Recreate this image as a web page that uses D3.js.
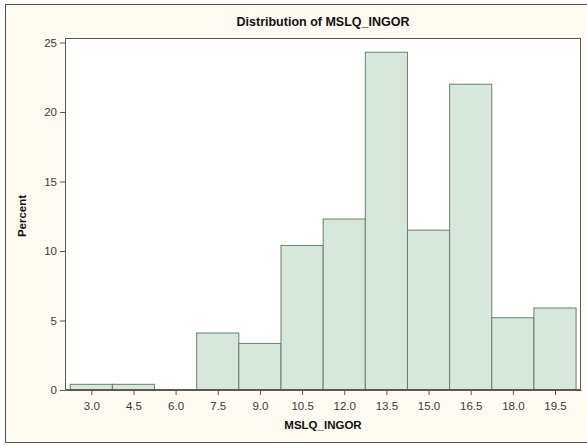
<!DOCTYPE html>
<html>
<head>
<meta charset="utf-8">
<script src="https://cdn.jsdelivr.net/npm/d3@7"></script>
<style>
  body { margin: 0; background: #fff; }
  text { font-family: Arial, "Liberation Sans", sans-serif; }
</style>
</head>
<body>
<div id="chart"></div>
<script>
// histogram bins (midpoints) and percent per bin
var binMids = [3.0, 4.5, 6.0, 7.5, 9.0, 10.5, 12.0, 13.5, 15.0, 16.5, 18.0, 19.5];
var percents = [0.41, 0.41, 0, 4.1, 3.35, 10.4, 12.3, 24.3, 11.5, 22.0, 5.2, 5.9];
var yTicks = [0, 5, 10, 15, 20, 25];
var binWidth = 1.5;

var svgWidth = 587;
var svgHeight = 445;

var plot = { left: 65, right: 581, top: 38, bottom: 390 };

var svg = d3.select("#chart")
  .append("svg")
    .attr("width", svgWidth)
    .attr("height", svgHeight);

// cream background + outer frame
svg.append("rect")
  .attr("x", 5.5).attr("y", 4.5)
  .attr("width", 585).attr("height", 438)
  .attr("fill", "#FFFAF2")
  .attr("stroke", "#57534a")
  .attr("stroke-width", 1);

var x = d3.scaleLinear()
  .domain([2.064, 20.425])
  .range([plot.left, plot.right]);

var y = d3.scaleLinear()
  .domain([0, 25])
  .range([plot.bottom, 42.5]);

// plot area
svg.append("rect")
  .attr("x", plot.left).attr("y", plot.top)
  .attr("width", plot.right - plot.left)
  .attr("height", plot.bottom - plot.top)
  .attr("fill", "#ffffff");

// bars
svg.selectAll("rect.bar")
  .data(binMids.map(function(m, i) { return { mid: m, pct: percents[i] }; })
    .filter(function(d) { return d.pct > 0; }))
  .enter()
  .append("rect")
  .classed("bar", true)
  .attr("x", function(d) { return x(d.mid - binWidth / 2); })
  .attr("width", function(d) { return x(d.mid + binWidth / 2) - x(d.mid - binWidth / 2); })
  .attr("y", function(d) { return y(d.pct); })
  .attr("height", function(d) { return y(0) - y(d.pct); })
  .attr("fill", "#D8E7DB")
  .attr("stroke", "#6f7d70")
  .attr("stroke-width", 1);

// plot frame
svg.append("rect")
  .attr("x", plot.left + 0.5).attr("y", plot.top + 0.5)
  .attr("width", plot.right - plot.left - 1)
  .attr("height", plot.bottom - plot.top - 1)
  .attr("fill", "none")
  .attr("stroke", "#5a5a52")
  .attr("stroke-width", 1);

// axes
var xAxis = d3.axisBottom(x)
  .tickValues(binMids)
  .tickFormat(d3.format(".1f"))
  .tickSize(5)
  .tickSizeOuter(0);

var yAxis = d3.axisLeft(y)
  .tickValues(yTicks)
  .tickSize(5)
  .tickSizeOuter(0);

var gx = svg.append("g")
  .attr("transform", "translate(0," + plot.bottom + ")")
  .call(xAxis);

var gy = svg.append("g")
  .attr("transform", "translate(" + plot.left + ",0)")
  .call(yAxis);

[gx, gy].forEach(function(g) {
  g.select(".domain").attr("stroke", "#5a5a52");
  g.selectAll(".tick line").attr("stroke", "#5a5a52");
  g.selectAll(".tick text")
    .attr("fill", "#3a3a3a")
    .style("font-size", "11.5px")
    .style("font-family", "Arial, 'Liberation Sans', sans-serif");
});
gx.selectAll(".tick text").attr("dy", "1.05em");

// title and axis labels
svg.append("text")
  .attr("x", 323).attr("y", 26)
  .attr("text-anchor", "middle")
  .style("font-size", "12.5px")
  .style("font-weight", "bold")
  .attr("fill", "#111")
  .text("Distribution of MSLQ_INGOR");

svg.append("text")
  .attr("x", 323).attr("y", 429)
  .attr("text-anchor", "middle")
  .style("font-size", "11.5px")
  .style("font-weight", "bold")
  .attr("fill", "#111")
  .text("MSLQ_INGOR");

svg.append("text")
  .attr("transform", "translate(26,216) rotate(-90)")
  .attr("text-anchor", "middle")
  .style("font-size", "11.5px")
  .style("font-weight", "bold")
  .attr("fill", "#111")
  .text("Percent");
</script>
</body>
</html>
